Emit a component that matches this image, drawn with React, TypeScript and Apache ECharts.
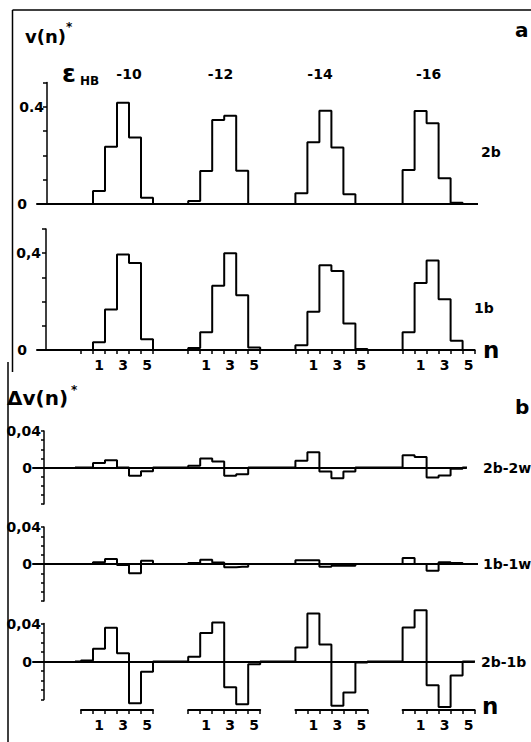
import React, { useEffect, useRef } from 'react';
import * as echarts from 'echarts';

// ---- data ----
const nBins = ['0', '1', '2', '3', '4', '5'];
const shownN = ['1', '3', '5'];
const epsHB = ['-10', '-12', '-14', '-16'];
const panelNames = ['2b', '1b', '2b-2w', '1b-1w', '2b-1b'];
const yTopLabels = ['0.4', '0,4', '0,04', '0,04', '0,04'];

// v(n)* for each eps_HB (rows) and n = 0..5 (columns)
const v2b = [
  [0, 0.053, 0.236, 0.417, 0.274, 0.026],
  [0.012, 0.136, 0.346, 0.363, 0.137, 0],
  [0.044, 0.254, 0.384, 0.233, 0.04, 0],
  [0.14, 0.383, 0.332, 0.106, 0.005, 0],
];
const v1b = [
  [0, 0.032, 0.167, 0.395, 0.36, 0.044],
  [0.008, 0.073, 0.266, 0.4, 0.226, 0.01],
  [0.02, 0.158, 0.35, 0.326, 0.11, 0.004],
  [0.073, 0.277, 0.37, 0.21, 0.038, 0],
];
// delta v(n)*
const d2b2w = [
  [0, 0.005, 0.008, 0, -0.009, -0.004],
  [0.002, 0.01, 0.0067, -0.009, -0.0074, 0],
  [0.0074, 0.0167, -0.0044, -0.0119, -0.0044, 0],
  [0.0133, 0.0115, -0.011, -0.0089, -0.0015, 0],
];
const d1b1w = [
  [0, 0.002, 0.0055, -0.001, -0.01, 0.0036],
  [0.001, 0.0046, 0.0015, -0.0036, -0.003, 0],
  [0.004, 0.004, -0.003, -0.002, -0.002, 0],
  [0.0065, 0, -0.0072, 0.002, 0.001, 0],
];
const d2b1b = [
  [0.001, 0.0133, 0.0354, 0.0086, -0.044, -0.0107],
  [0.005, 0.03, 0.041, -0.027, -0.045, -0.003],
  [0.0147, 0.0505, 0.018, -0.0467, -0.0326, -0.001],
  [0.0358, 0.054, -0.025, -0.048, -0.0147, 0],
];
const panelData = [v2b, v1b, d2b2w, d1b1w, d2b1b];

// ---- layout ----
const FONT = '"DejaVu Sans", "Liberation Sans", sans-serif';
const X0 = 87; // pixel of n=0 centre, first group
const BIN = 12; // pixel width of a bin
const GPX = 107.2; // pixel distance between groups
const GSTEP = GPX / BIN;

const panelLayout = [
  { L: 37, ax: 47, R: 477, top: 82.5, h: 121.5, min: 0, max: 0.5, step: 0.1, tick: 4, margin: 3, pad: 17, labelY: 152, labelX: 481 },
  { L: 37, ax: 46, R: 474, top: 229, h: 121, min: 0, max: 0.5, step: 0.1, tick: 4, margin: 5, pad: 14, labelY: 307.5, labelX: 474 },
  { L: 33, ax: 44, R: 466, top: 431, h: 73, min: -0.04, max: 0.04, step: 0.01, tick: 3, margin: 3, pad: 9, labelY: 467.5, labelX: 483 },
  { L: 33, ax: 44, R: 477, top: 527, h: 74, min: -0.04, max: 0.04, step: 0.01, tick: 3, margin: 3, pad: 9, labelY: 564, labelX: 483 },
  { L: 33, ax: 44, R: 474, top: 623.5, h: 76, min: -0.04, max: 0.04, step: 0.01, tick: 3, margin: 3, pad: 9, labelY: 662, labelX: 481 },
];
const groupAxisY = [350, 710];
const groupCentersPx = [129, 220.5, 320, 428.7];

function stepData(groups: number[][]) {
  const out: number[][] = [];
  groups.forEach((vals, g) => {
    out.push([g * GSTEP - 1, 0]);
    vals.forEach((v, n) => out.push([g * GSTEP + n, v]));
    out.push([g * GSTEP + vals.length, 0]);
  });
  return out;
}

function buildOption() {
  const grid: any[] = [];
  const xAxis: any[] = [];
  const yAxis: any[] = [];
  const series: any[] = [];

  panelLayout.forEach((p, i) => {
    grid.push({ left: p.L, top: p.top, width: p.R - p.L, height: p.h });
    xAxis.push({
      type: 'value',
      gridIndex: i,
      min: (p.L - X0) / BIN,
      max: (p.R - X0) / BIN,
      axisLine: { show: true, onZero: true, lineStyle: { color: '#000', width: 2 } },
      axisTick: { show: false },
      axisLabel: { show: false },
      splitLine: { show: false },
    });
    const topVal = p.max === 0.5 ? 0.4 : 0.04;
    const topTxt = yTopLabels[i];
    yAxis.push({
      type: 'value',
      gridIndex: i,
      min: p.min,
      max: p.max,
      interval: p.step,
      position: 'left',
      offset: -(p.ax - p.L),
      axisLine: { show: true, onZero: false, lineStyle: { color: '#000', width: 1.5 } },
      axisTick: { show: true, length: p.tick, lineStyle: { color: '#000', width: 1.5 } },
      splitLine: { show: false },
      axisLabel: {
        margin: p.margin,
        color: '#000',
        fontFamily: FONT,
        fontWeight: 'bold',
        fontSize: 14,
        formatter: (v: number) => {
          if (Math.abs(v) < 1e-9) return '{z|0}';
          if (Math.abs(v - topVal) < 1e-9) return topTxt;
          return '';
        },
        rich: {
          z: { padding: [0, p.pad, 0, 0], color: '#000', fontFamily: FONT, fontWeight: 'bold', fontSize: 14 },
        },
      },
    });
    series.push({
      type: 'line',
      name: panelNames[i],
      xAxisIndex: i,
      yAxisIndex: i,
      data: stepData(panelData[i]),
      step: 'middle',
      symbol: 'none',
      clip: false,
      silent: true,
      z: 3,
      lineStyle: { color: '#000', width: 2 },
    });
  });

  // group n-axes
  groupAxisY.forEach((yLine) => {
    epsHB.forEach((_, g) => {
      const gi = grid.length;
      grid.push({ left: 81 + GPX * g, width: 72, top: yLine - 10, height: 10 });
      xAxis.push({
        type: 'category',
        gridIndex: gi,
        data: nBins,
        boundaryGap: true,
        position: 'bottom',
        axisLine: { show: true, onZero: false, lineStyle: { color: '#000', width: 2 } },
        axisTick: { show: true, interval: 0, alignWithLabel: false, length: 4, lineStyle: { color: '#000', width: 1.5 } },
        axisLabel: {
          interval: 0,
          margin: 8,
          color: '#000',
          fontFamily: FONT,
          fontWeight: 'bold',
          fontSize: 14,
          formatter: (v: string) => (shownN.includes(v) ? v : ''),
        },
        splitLine: { show: false },
      });
      yAxis.push({ type: 'value', gridIndex: gi, show: false, min: 0, max: 1 });
    });
  });

  const bold = (size: number) => `bold ${size}px ${FONT}`;
  const txt = (text: string, x: number, y: number, size: number, align = 'left') => ({
    type: 'text',
    silent: true,
    style: { text, x, y, font: bold(size), fill: '#000', align, verticalAlign: 'middle' },
  });
  const line = (x1: number, y1: number, x2: number, y2: number) => ({
    type: 'line',
    silent: true,
    shape: { x1, y1, x2, y2 },
    style: { stroke: '#000', lineWidth: 1.5 },
  });

  const graphic: any[] = [
    line(12.5, 10, 531, 10),
    line(12.5, 10, 12.5, 372),
    line(8, 362, 8, 742),
    txt('v(n)', 25, 36.5, 18),
    txt('*', 66, 27, 12),
    txt('a', 515, 30, 20),
    txt('ε', 62, 73, 25),
    txt('HB', 80, 80.5, 12),
    txt('Δv(n)', 7, 398, 20),
    txt('*', 71, 390, 12),
    txt('b', 515, 406.5, 20),
    txt('n', 483, 350, 23),
    txt('n', 482, 706, 23),
  ];
  epsHB.forEach((e, g) => graphic.push(txt(e, groupCentersPx[g], 74, 14, 'center')));
  panelLayout.forEach((p, i) => graphic.push(txt(panelNames[i], p.labelX, p.labelY, 14)));

  return {
    animation: false,
    backgroundColor: '#fff',
    grid,
    xAxis,
    yAxis,
    series,
    graphic,
  };
}

export default function App() {
  const ref = useRef<HTMLDivElement>(null);
  useEffect(() => {
    document.body.style.margin = '0';
    if (!ref.current) return;
    const chart = echarts.init(ref.current, undefined, { renderer: 'svg' });
    chart.setOption(buildOption() as any);
    return () => chart.dispose();
  }, []);
  return <div ref={ref} style={{ width: 531, height: 742, position: 'absolute', left: 0, top: 0 }} />;
}
